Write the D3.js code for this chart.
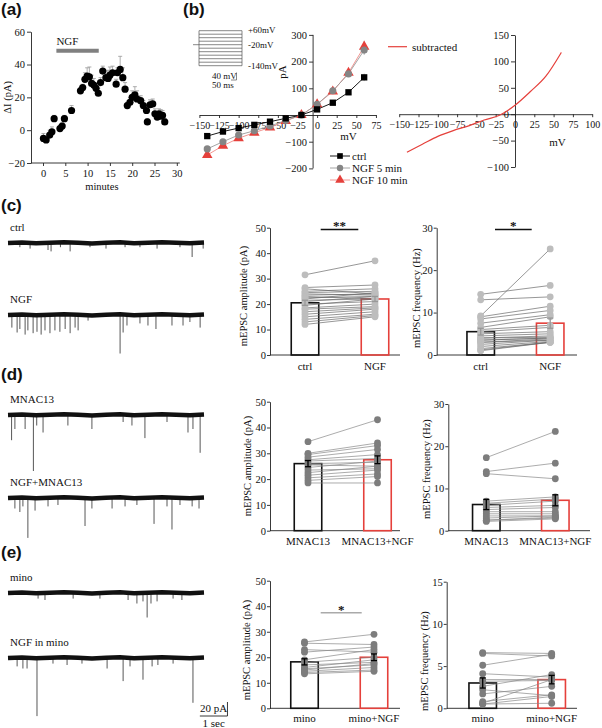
<!DOCTYPE html>
<html><head><meta charset="utf-8">
<script src="https://cdn.jsdelivr.net/npm/d3@7"></script>
<style>
body{margin:0;background:#fff;}
svg{display:block;font-family:"Liberation Serif","Times New Roman",serif;}
</style></head><body>
<svg id="fig" width="602" height="728"></svg>
<script>
// ---------------- DATA ----------------
// (a) time course
const aTime = [0.1,0.7,1.5,2.0,2.5,3.8,4.3,4.8,6.4,8.4,8.9,9.4,9.9,10.4,10.9,11.4,11.9,12.4,12.9,13.4,14.1,14.6,15.0,15.6,16.4,16.7,17.3,17.9,18.4,18.9,19.5,20.0,20.6,21.1,21.9,22.5,23.2,23.4,24.0,24.6,25.1,25.6,26.0,26.4,26.8,27.3];
const aDeltaI = [-5,-6,-3,-1,7,1,2.5,7,12,24,26,31,33,32.5,28.5,27.5,25.5,22.5,29,36,32,31.5,33.5,35,28,35,37,32,25,15,17,20,21.5,19,18,15,12,5,15.5,16,10,8,10,8.5,9,5];
const aErr = [3,2,3,3,2,2,2,2,3,2,2,4,5,6,5,4,3,3,3,3,4,5,5,4,3,3,8,6,4,2,3,4,5,5,3,3,3,2,3,3,3,3,3,4,3,2];
const aNgfPeriod = [3, 12.5];
const aXTicks = [0,5,10,15,20,25,30];
const aYTicks = [-20,0,20,40,60];

// (b) I-V curves
const ivVoltage = [-140,-120,-100,-80,-60,-40,-20,0,20,40,60];
const ivCtrl   = [-79,-62,-49,-37,-25,-12.5,0,21,46,85,141];
const ivNgf5   = [-127,-100,-75,-59,-41,-21,0,40,91,154,243];
const ivNgf10  = [-150,-115,-87,-66,-47,-22,0,40,88,158,256];
const ivCtrlErr  = [5,4,3,3,3,2,2,3,4,6,14];
const ivNgf5Err  = [8,6,5,4,3,3,2,3,6,10,18];
const ivNgf10Err = [10,8,6,5,4,3,2,4,8,12,22];
const ivSubtracted = [-72,-57,-42,-31,-22,-11,-2,17,43,72,117];
const ivXTicks = [-150,-125,-100,-75,-50,-25,0,25,50,75];
const ivYTicks = [-200,-100,100,200,300];
const subXTicks = [-150,-125,-100,-75,-50,-25,0,25,50,75,100];
const subYTicks = [-100,-50,0,50,100,150];
const protocolLevels = [60,40,20,0,-20,-40,-60,-80,-100,-120,-140];

// (c) ctrl vs NGF
const cCats = ["ctrl","NGF"];
const cAmpPre  = [31.5,26.5,26,25,24.5,24,23.5,23,22.5,22,21.5,21,20,19.5,18.5,18,17,16,15,14,13,12];
const cAmpPost = [37,27.5,24,26,25,23.5,24,22,23,24.5,22,23,21,22,20,19,18.5,18,17,16,15.5,15];
const cAmpMean = [20.5,22]; const cAmpSem = [1,1];
const cFreqPre  = [9.2,14.3,13,9,8.5,7.5,6.5,6,5.5,5,4.5,4,4,3.5,3.5,3,3,2.5,2,1.5,1,1.2];
const cFreqPost = [25,16.4,13.7,11.5,10.5,9.5,9,7,6.5,5.5,5,4.5,4.2,4,4,3.8,3.5,3.5,3.2,3,3,3];
const cFreqMean = [5.5,7.5]; const cFreqSem = [0.8,1.2];

// (d) MNAC13 vs MNAC13+NGF
const dCats = ["MNAC13","MNAC13+NGF"];
const dAmpPre  = [34.5,30,29.5,28.5,27.5,27,26,25.5,24.5,23.5,22.5,21.5,20.5,19.5,18.5];
const dAmpPost = [43,34,33,31.5,29.5,28,26.5,25,27,24,25,23.5,22,21,18.5];
const dAmpMean = [26,27.5]; const dAmpSem = [1.2,1.5];
const dFreqPre  = [17.3,14,13.5,7,6.5,6,5.5,5,4.5,4,3.5,3,2.5,2.5,2.2];
const dFreqPost = [23.5,16,12.3,8,7.5,7,6,5.5,4.5,4,3.5,3.5,3,3.2,2.8];
const dFreqMean = [6.2,7.2]; const dFreqSem = [1.2,1.3];

// (e) mino vs mino+NGF
const eCats = ["mino","mino+NGF"];
const eAmpPre  = [26,25.5,23,22,19,18,17,16,15.5,15,14.5,14,13.5];
const eAmpPost = [29,25,22,24,23,20,18,19,17,17.5,16,15,14.5];
const eAmpMean = [18.2,20]; const eAmpSem = [1.2,1.3];
const eFreqPre  = [6.6,6.5,5.1,4.1,3.4,3.2,2.6,2.2,1.7,0.8,0.6,0.5,0.5];
const eFreqPost = [6.5,6.2,6.4,3.7,3.4,3.3,4,1.5,2.6,1.6,3.4,0.6,1.4];
const eFreqMean = [3.0,3.4]; const eFreqSem = [0.6,0.5];

const ampTicks = [0,10,20,30,40,50];
const freqTicks30 = [0,10,20,30];
const freqTicks15 = [0,5,10,15];

// example traces: events [time s, depth pA]
const traceNames = ["ctrl","NGF","MNAC13","NGF+MNAC13","mino","NGF in mino"];
const spikesCtrl = [[0.43,6],[0.8,8],[1.45,10],[1.56,12],[1.9,6],[2.25,12],[2.97,6],[3.55,8],[4.24,6],[4.78,6],[5.4,8],[6.23,6],[6.67,20],[7.07,8]];
const spikesNgf = [[0.14,18],[0.33,25],[0.43,20],[0.62,28],[0.72,22],[0.91,26],[1.05,24],[1.2,28],[1.34,22],[1.52,26],[1.7,22],[1.88,24],[2.07,20],[2.25,26],[2.43,18],[2.54,22],[2.9,8],[4.06,55],[4.17,25],[4.31,15],[4.78,12],[5.07,15],[5.36,20],[5.94,15],[6.34,15],[6.59,10],[6.96,18]];
const spikesMnac = [[0.13,36],[0.25,20],[0.62,20],[0.92,80],[1.04,15],[1.27,25],[2.17,15],[3.04,20],[4.17,10],[4.49,15],[4.96,33],[5.76,10],[6.52,25],[6.7,20],[6.96,54]];
const spikesNgfMnac = [[0.25,15],[0.43,20],[0.54,12],[0.72,57],[0.98,18],[1.45,12],[1.81,10],[2.79,40],[3.04,15],[3.77,15],[4.24,12],[4.67,10],[5.29,37],[5.76,12],[5.94,45],[6.23,10],[6.67,12],[6.92,15]];
const spikesMino = [[1.09,8],[1.34,10],[2.36,8],[3.33,8],[4.35,10],[4.67,15],[4.89,12],[5.04,35],[5.18,15],[5.4,12],[5.98,8],[6.3,10]];
const spikesNgfMino = [[0.33,12],[0.54,15],[0.69,15],[1.05,83],[1.63,8],[2.14,10],[2.68,8],[3.59,15],[4.17,33],[4.42,12],[4.89,31],[5.22,12],[5.43,10],[5.98,8],[6.7,64]];
const traceDrift = [0,0.8,-0.5,0.4,1,0.3,-0.6,0.2,0.9,-0.3,0.5,1,0.2,-0.4,0.6];

// ---------------- DRAWING ----------------
const svg = d3.select("#fig");
const AX = "#222";
const RED = "#e5403b";
const SERIF = "Liberation Serif, Times New Roman, serif";

function text(g, x, y, s, o = {}) {
  const t = g.append("text").attr("x", x).attr("y", y).text(s)
    .attr("font-size", o.size || 11).attr("fill", o.fill || "#111")
    .attr("font-family", o.family || SERIF)
    .attr("text-anchor", o.anchor || "start");
  if (o.weight) t.attr("font-weight", o.weight);
  if (o.rotate) t.attr("transform", `rotate(-90,${x},${y})`);
  return t;
}
function styleAxis(sel, size) {
  sel.select(".domain").attr("stroke", AX).attr("stroke-width", 0.9);
  sel.selectAll(".tick line").attr("stroke", AX).attr("stroke-width", 0.9);
  sel.selectAll(".tick text").attr("font-family", SERIF).attr("font-size", size || 11).attr("fill", "#111");
  sel.attr("font-family", SERIF);
}

// panel letters
[["(a)",1,15],["(b)",183,15],["(c)",1,211],["(d)",1,380],["(e)",1,558]].forEach(d =>
  text(svg, d[1], d[2], d[0], {size: 17, weight: "bold", family: "Liberation Sans, Arial, sans-serif"}));

// ---------- (a) ----------
(function(){
  const g = svg.append("g");
  const x = d3.scaleLinear().domain([0,30]).range([43,176.8]);
  const y = d3.scaleLinear().domain([-20,60]).range([163,31.7]);
  const ya = g.append("g").attr("transform","translate(31,0)")
    .call(d3.axisLeft(y).tickValues(aYTicks).tickSize(4).tickSizeOuter(0).tickPadding(2));
  styleAxis(ya, 10.5);
  const xa = g.append("g").attr("transform",`translate(0,${y(-20)})`)
    .call(d3.axisBottom(x).tickValues(aXTicks).tickSize(3).tickSizeOuter(0).tickPadding(4));
  styleAxis(xa, 10.5); xa.select(".domain").remove();
  g.append("line").attr("x1",31).attr("x2",x(30)+3).attr("y1",y(-20)).attr("y2",y(-20)).attr("stroke",AX).attr("stroke-width",0.9);
  text(g, x(13.2), 190, "minutes", {anchor:"middle", size:10.5});
  text(g, 11, y(20), "ΔI (pA)", {anchor:"middle", rotate:true, size:10.5});
  // NGF bar
  g.append("line").attr("x1",x(aNgfPeriod[0])).attr("x2",x(aNgfPeriod[1]))
    .attr("y1",y(48.4)).attr("y2",y(48.4)).attr("stroke","#808080").attr("stroke-width",4);
  text(g, x(aNgfPeriod[0]), y(48.4)-6, "NGF");
  // error bars
  aTime.forEach((t,i)=>{
    const v = aDeltaI[i], e = aErr[i];
    g.append("line").attr("x1",x(t)).attr("x2",x(t)).attr("y1",y(v)).attr("y2",y(v+e)).attr("stroke","#999").attr("stroke-width",0.8);
    g.append("line").attr("x1",x(t)-2).attr("x2",x(t)+2).attr("y1",y(v+e)).attr("y2",y(v+e)).attr("stroke","#999").attr("stroke-width",0.8);
  });
  g.selectAll("circle.a").data(aTime).join("circle")
    .attr("cx",d=>x(d)).attr("cy",(d,i)=>y(aDeltaI[i])).attr("r",3.6).attr("fill","#000");
})();

// ---------- (b) left ----------
(function(){
  const g = svg.append("g");
  const x = d3.scaleLinear().domain([-150,75]).range([199.4,375.95]);
  const y = d3.scaleLinear().domain([-200,300]).range([168.4,34.9]);
  const xa = g.append("g").attr("transform",`translate(0,${y(0)})`)
    .call(d3.axisBottom(x).tickValues(ivXTicks).tickSize(3).tickSizeOuter(0).tickPadding(2));
  styleAxis(xa, 10);
  xa.selectAll(".tick text").attr("dy","0.85em");
  const ya = g.append("g").attr("transform",`translate(${x(0)-4},0)`)
    .call(d3.axisLeft(y).tickValues(ivYTicks).tickSize(4).tickSizeOuter(0).tickPadding(2));
  styleAxis(ya, 10.5);
  ya.select(".domain").remove();
  g.append("line").attr("x1",x(0)-4).attr("x2",x(0)-4).attr("y1",y(-200)).attr("y2",y(300)).attr("stroke",AX).attr("stroke-width",0.9);
  text(g, 286, 72, "pA", {anchor:"middle", rotate:true});
  text(g, x(40), 140, "mV", {anchor:"middle"});

  const series = [
    {v: ivNgf10, e: ivNgf10Err, c: RED, lc: "#f08a86", m: "tri"},
    {v: ivNgf5, e: ivNgf5Err, c: "#858585", lc: "#9a9a9a", m: "circ"},
    {v: ivCtrl, e: ivCtrlErr, c: "#000", lc: "#000", m: "sq"}
  ];
  const line = d3.line().x((d,i)=>x(ivVoltage[i])).y(d=>y(d));
  const sym = {tri: d3.symbolTriangle, circ: d3.symbolCircle, sq: d3.symbolSquare};
  const symSize = {tri: 48, circ: 40, sq: 40};
  series.forEach(s=>{
    s.v.forEach((v,i)=>{
      g.append("line").attr("x1",x(ivVoltage[i])).attr("x2",x(ivVoltage[i]))
        .attr("y1",y(v-s.e[i])).attr("y2",y(v+s.e[i])).attr("stroke","#aaa").attr("stroke-width",0.8);
    });
    g.append("path").attr("d",line(s.v)).attr("fill","none").attr("stroke",s.lc).attr("stroke-width",0.9);
  });
  series.forEach(s=>{
    g.selectAll(null).data(s.v).join("path")
      .attr("transform",(d,i)=>`translate(${x(ivVoltage[i])},${y(d)})`)
      .attr("d", d3.symbol().type(sym[s.m]).size(symSize[s.m])).attr("fill",s.c);
  });
  // legend
  const leg = [["ctrl","#000","#000","sq",156],["NGF 5 min","#858585","#9a9a9a","circ",168],["NGF 10 min",RED,"#f08a86","tri",180]];
  leg.forEach(l=>{
    g.append("line").attr("x1",330).attr("x2",350).attr("y1",l[4]).attr("y2",l[4]).attr("stroke",l[2]).attr("stroke-width",0.9);
    g.append("path").attr("transform",`translate(340,${l[4]})`).attr("d",d3.symbol().type(sym[l[3]]).size(symSize[l[3]]-8)).attr("fill",l[1]);
    text(g, 352, l[4]+4, l[0]);
  });
  // protocol inset
  const py = d3.scaleLinear().domain([-140,60]).range([65.7,30.7]);
  const pg = g.append("g").attr("stroke","#555").attr("stroke-width",0.7);
  protocolLevels.forEach(lv=> pg.append("line").attr("x1",199).attr("x2",242).attr("y1",py(lv)).attr("y2",py(lv)));
  pg.append("line").attr("x1",199).attr("x2",199).attr("y1",py(-140)).attr("y2",py(60));
  pg.append("line").attr("x1",242).attr("x2",242).attr("y1",py(-140)).attr("y2",py(60));
  pg.append("line").attr("x1",193).attr("x2",199).attr("y1",py(-20)).attr("y2",py(-20));
  text(g, 248, py(60)+2, "+60mV", {size:9});
  text(g, 248, py(-20)+3, "-20mV", {size:9});
  text(g, 248, py(-140)+3, "-140mV", {size:9});
  pg.append("line").attr("x1",236.5).attr("x2",236.5).attr("y1",72.5).attr("y2",80);
  pg.append("line").attr("x1",231).attr("x2",236.5).attr("y1",80).attr("y2",80);
  text(g, 212, 79, "40 mV", {size:9});
  text(g, 212, 88, "50 ms", {size:9});
})();

// ---------- (b) right ----------
(function(){
  const g = svg.append("g");
  const x = d3.scaleLinear().domain([-150,100]).range([399.2,592.2]);
  const y = d3.scaleLinear().domain([-100,150]).range([167,35]);
  const xa = g.append("g").attr("transform",`translate(0,${y(0)})`)
    .call(d3.axisBottom(x).tickValues(subXTicks).tickSize(3).tickSizeOuter(0).tickPadding(2));
  styleAxis(xa, 10);
  xa.selectAll(".tick text").attr("dy","0.85em");
  const ya = g.append("g").attr("transform",`translate(${x(0)},0)`)
    .call(d3.axisLeft(y).tickValues(subYTicks).tickSize(4).tickSizeOuter(0).tickPadding(2));
  styleAxis(ya, 10.5);
  text(g, x(55), 146, "mV", {anchor:"middle"});
  const line = d3.line().x((d,i)=>x(ivVoltage[i])).y(d=>y(d)).curve(d3.curveMonotoneX);
  g.append("path").attr("d",line(ivSubtracted)).attr("fill","none").attr("stroke",RED).attr("stroke-width",1.2);
  g.append("line").attr("x1",388).attr("x2",407).attr("y1",46.7).attr("y2",46.7).attr("stroke",RED).attr("stroke-width",1.2);
  text(g, 412, 50.5, "subtracted");
})();

// ---------- paired bar panels ----------
function barPanel(o){
  const g = svg.append("g");
  const y = d3.scaleLinear().domain([0,o.yMax]).range([o.y0,o.yTop]);
  const x = d3.scalePoint().domain(o.cats).range([o.axisX+o.c1, o.axisX+o.c2]);
  const bw = 27.5;
  const ya = g.append("g").attr("transform",`translate(${o.axisX},0)`)
    .call(d3.axisLeft(y).tickValues(o.ticks).tickSize(3).tickSizeOuter(0).tickPadding(1));
  styleAxis(ya, 10.5);
  g.append("line").attr("x1",o.axisX).attr("x2",o.xEnd).attr("y1",o.y0).attr("y2",o.y0).attr("stroke",AX).attr("stroke-width",0.9);
  // bars
  o.means.forEach((m,i)=>{
    g.append("rect").attr("x",x(o.cats[i])-bw/2).attr("y",y(m)).attr("width",bw).attr("height",y(0)-y(m))
      .attr("fill","none").attr("stroke", i===0 ? "#111" : RED).attr("stroke-width",1.6);
  });
  // pair lines
  o.pre.forEach((v,i)=>{
    g.append("line").attr("x1",x(o.cats[0])).attr("x2",x(o.cats[1])).attr("y1",y(v)).attr("y2",y(o.post[i]))
      .attr("stroke",o.lineColor).attr("stroke-width",0.7);
  });
  // dots
  [o.pre,o.post].forEach((arr,k)=>{
    g.selectAll(null).data(arr).join("circle").attr("cx",x(o.cats[k])).attr("cy",d=>y(d)).attr("r",3.4).attr("fill",o.dotColor);
  });
  // error bars
  o.means.forEach((m,i)=>{
    const cx = x(o.cats[i]), s = o.sems[i];
    g.append("line").attr("x1",cx).attr("x2",cx).attr("y1",y(m-s)).attr("y2",y(m+s)).attr("stroke",o.errColor).attr("stroke-width",1.3);
    [m-s,m+s].forEach(v=> g.append("line").attr("x1",cx-3).attr("x2",cx+3).attr("y1",y(v)).attr("y2",y(v)).attr("stroke",o.errColor).attr("stroke-width",1.3));
  });
  // category labels
  o.cats.forEach(c=> text(g, x(c), o.labelY, c, {anchor:"middle"}));
  // y label
  text(g, o.yLabelX, o.yLabelY, o.yLabel, {anchor:"middle", rotate:true, size:10.5});
  // significance
  if (o.sig){
    g.append("line").attr("x1",o.sig.x1).attr("x2",o.sig.x2).attr("y1",y(o.sig.v)).attr("y2",y(o.sig.v))
      .attr("stroke",o.sig.color).attr("stroke-width",1.5);
    text(g, (o.sig.x1+o.sig.x2)/2, y(o.sig.v)+1, o.sig.label, {anchor:"middle", size:13, weight:"bold"});
  }
}

const LIGHT = "#bdbdbd", DARK = "#7d7d7d";
barPanel({cats:cCats, pre:cAmpPre, post:cAmpPost, means:cAmpMean, sems:cAmpSem, yMax:50, ticks:ampTicks,
  axisX:270, y0:355, yTop:227.7, xEnd:400, c1:35, c2:105, labelY:370, dotColor:LIGHT, lineColor:"#6a6a6a", errColor:"#999",
  yLabel:"mEPSC amplitude (pA)", yLabelX:247, yLabelY:296, sig:{x1:320.7,x2:358.3,v:49.3,color:"#111",label:"**"}});
barPanel({cats:cCats, pre:cFreqPre, post:cFreqPost, means:cFreqMean, sems:cFreqSem, yMax:30, ticks:freqTicks30,
  axisX:436.7, y0:355, yTop:227.7, xEnd:577, c1:44, c2:113.5, labelY:370, dotColor:LIGHT, lineColor:"#6a6a6a", errColor:"#999",
  yLabel:"mEPSC frequency (Hz)", yLabelX:420, yLabelY:298, sig:{x1:495,x2:531.7,v:29.6,color:"#111",label:"*"}});
barPanel({cats:dCats, pre:dAmpPre, post:dAmpPost, means:dAmpMean, sems:dAmpSem, yMax:50, ticks:ampTicks,
  axisX:270, y0:530.7, yTop:401.7, xEnd:400, c1:38, c2:107.5, labelY:545, dotColor:DARK, lineColor:"#888", errColor:"#000",
  yLabel:"mEPSC amplitude (pA)", yLabelX:251, yLabelY:466});
barPanel({cats:dCats, pre:dFreqPre, post:dFreqPost, means:dFreqMean, sems:dFreqSem, yMax:30, ticks:freqTicks30,
  axisX:448.3, y0:530.7, yTop:404, xEnd:590, c1:38, c2:107, labelY:545, dotColor:DARK, lineColor:"#888", errColor:"#000",
  yLabel:"mEPSC frequency (Hz)", yLabelX:430, yLabelY:469});
barPanel({cats:eCats, pre:eAmpPre, post:eAmpPost, means:eAmpMean, sems:eAmpSem, yMax:50, ticks:ampTicks,
  axisX:270, y0:708.3, yTop:580.7, xEnd:400, c1:34.5, c2:104, labelY:722, dotColor:DARK, lineColor:"#888", errColor:"#000",
  yLabel:"mEPSC amplitude (pA)", yLabelX:250, yLabelY:650, sig:{x1:320.7,x2:361.7,v:37.4,color:"#aaa",label:"*"}});
barPanel({cats:eCats, pre:eFreqPre, post:eFreqPost, means:eFreqMean, sems:eFreqSem, yMax:15, ticks:freqTicks15,
  axisX:446.7, y0:708.3, yTop:581.7, xEnd:577, c1:36, c2:105, labelY:722, dotColor:DARK, lineColor:"#888", errColor:"#000",
  yLabel:"mEPSC frequency (Hz)", yLabelX:428, yLabelY:661});

// ---------- traces ----------
(function(){
  const g = svg.append("g");
  const tx = d3.scaleLinear().domain([0,7.1]).range([8,204]);
  const pa = d3.scaleLinear().domain([0,1]).range([0,0.7]); // px per pA (downward)
  const spikes = [spikesCtrl, spikesNgf, spikesMnac, spikesNgfMnac, spikesMino, spikesNgfMino];
  const baseY = [243,315,415,498,593,658];
  const driftT = traceDrift.map((d,i)=> i*7.1/(traceDrift.length-1));
  traceNames.forEach((name,k)=>{
    const b = baseY[k];
    text(g, 10, b-12, name);
    spikes[k].forEach(s=>{
      g.append("line").attr("x1",tx(s[0])).attr("x2",tx(s[0])).attr("y1",b).attr("y2",b+pa(s[1]))
        .attr("stroke","#444").attr("stroke-width",0.9);
    });
    const line = d3.line().x((d,i)=>tx(driftT[i])).y(d=>b-pa(d)).curve(d3.curveLinear);
    g.append("path").attr("d",line(traceDrift)).attr("fill","none").attr("stroke","#111").attr("stroke-width",4.5);
  });
  // scale bar
  const x0 = tx(6.95), x1 = tx(6.95)+ (tx(1)-tx(0));
  g.append("line").attr("x1",x0).attr("x2",x1).attr("y1",716).attr("y2",716).attr("stroke","#222").attr("stroke-width",0.9);
  g.append("line").attr("x1",x1).attr("x2",x1).attr("y1",716-pa(20)).attr("y2",716).attr("stroke","#222").attr("stroke-width",0.9);
  text(g, (x0+x1)/2, 712, "20 pA", {anchor:"middle"});
  text(g, (x0+x1)/2, 727, "1 sec", {anchor:"middle"});
})();
</script>
</body></html>
